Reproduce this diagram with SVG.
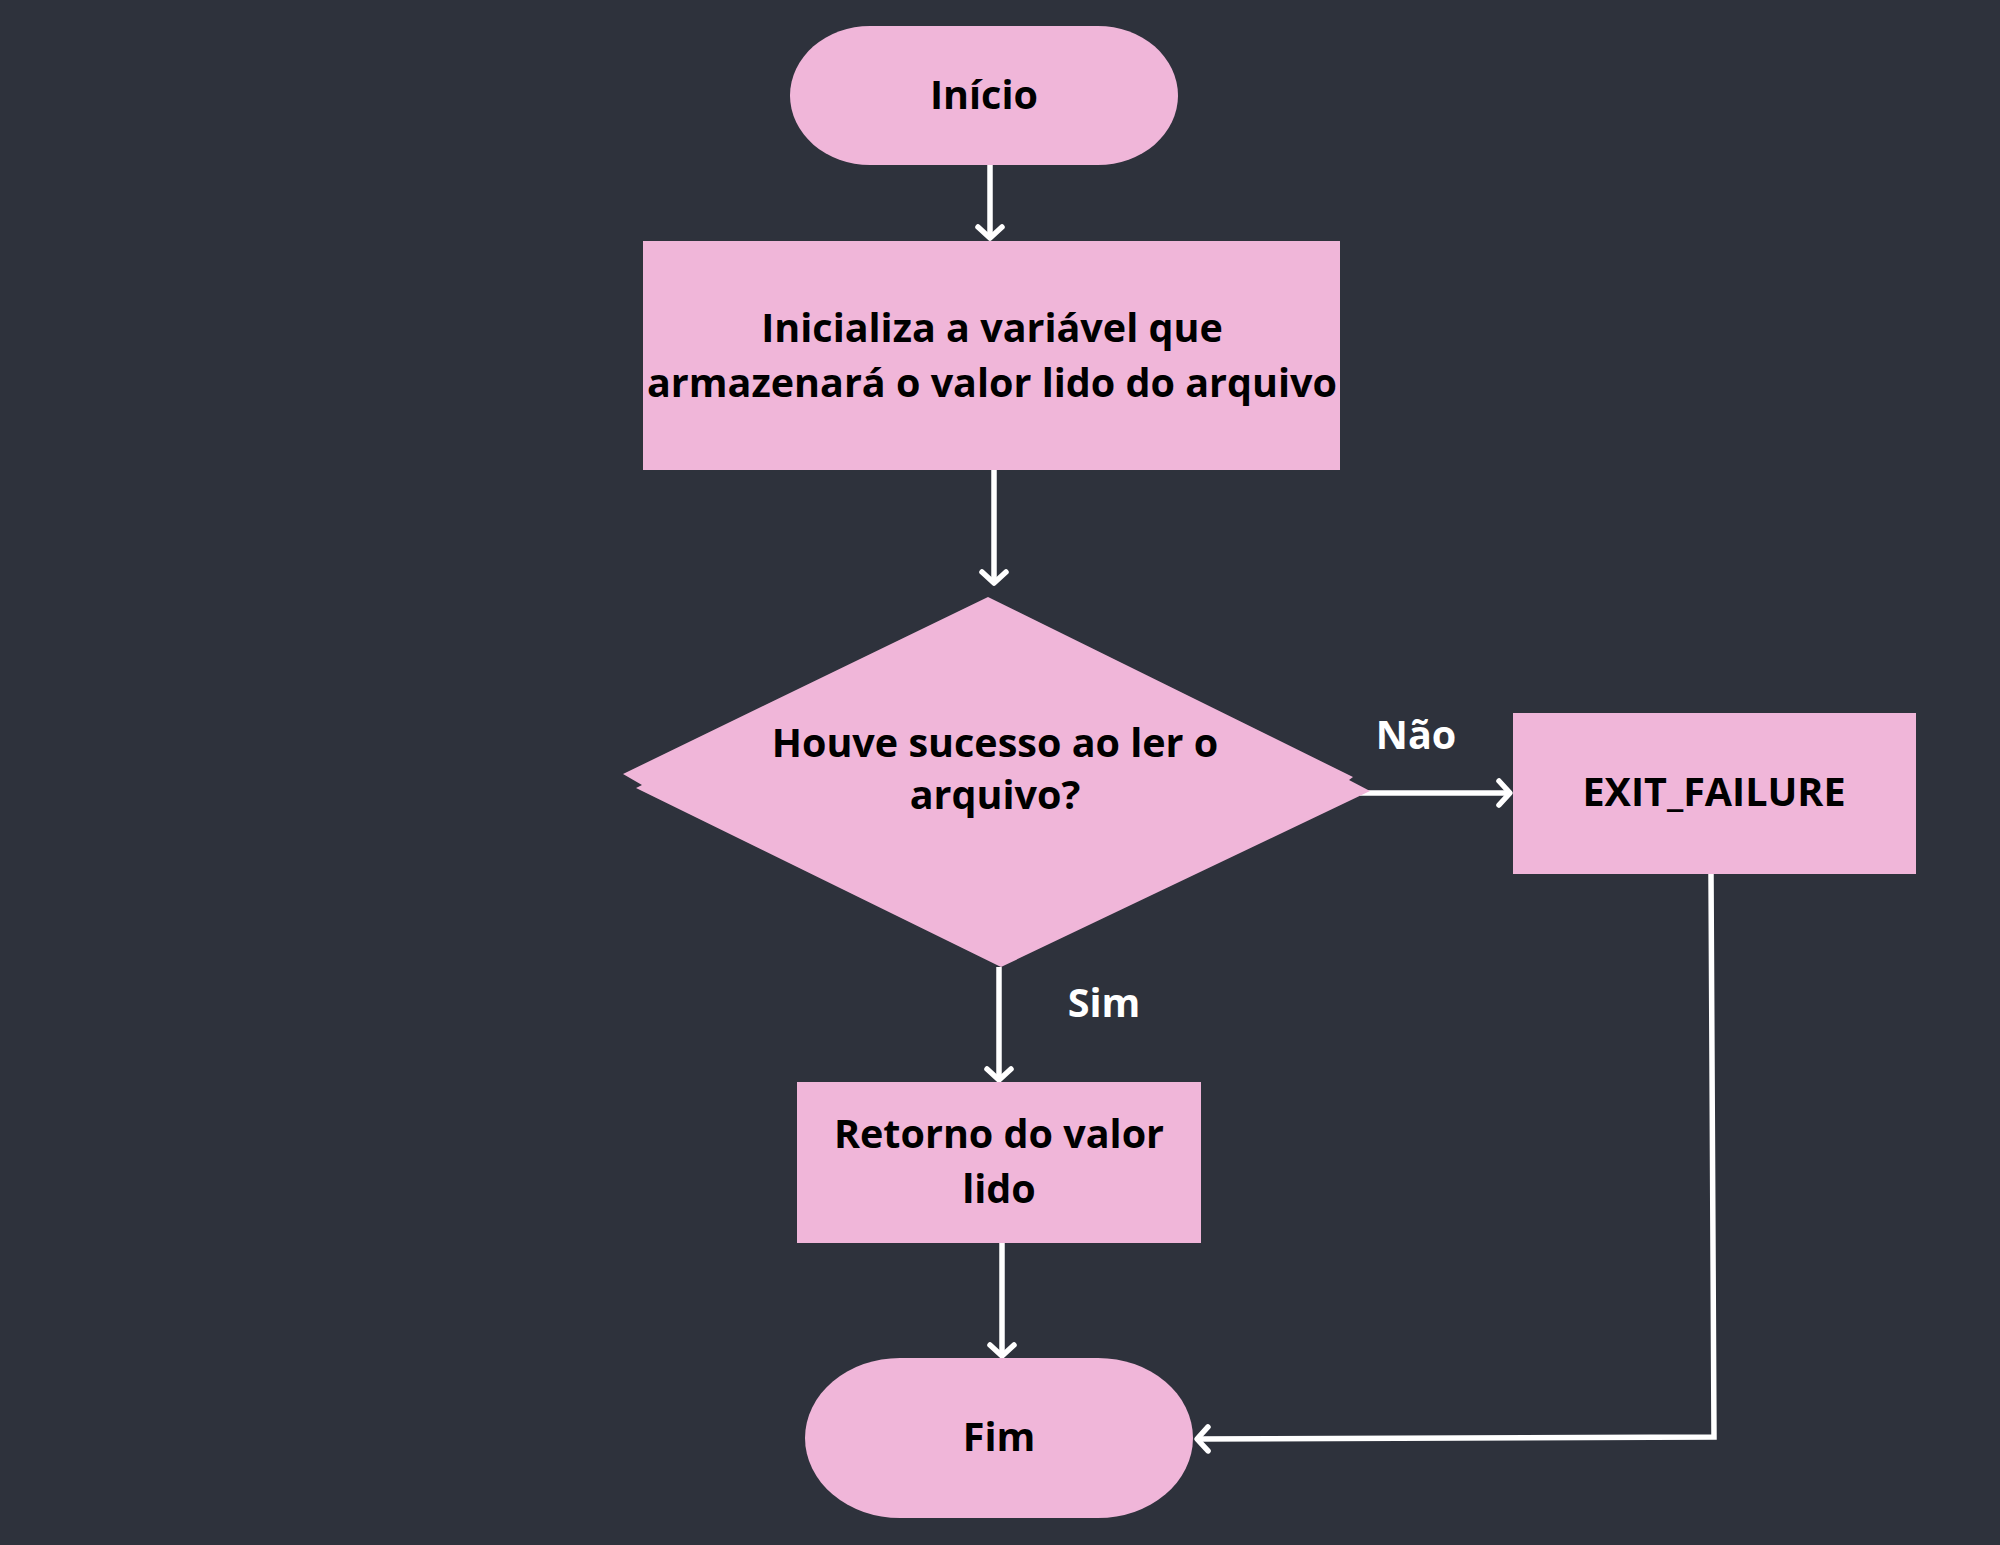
<svg xmlns="http://www.w3.org/2000/svg" width="2000" height="1545" viewBox="0 0 2000 1545">
<style>
.node{fill:#f0b6d9;}
.t{font-family:"Open Sans","Noto Sans","DejaVu Sans",sans-serif;font-weight:700;font-size:39.5px;fill:#000;text-anchor:middle;}
.lbl{font-family:"Open Sans","Noto Sans","DejaVu Sans",sans-serif;font-weight:700;font-size:39.5px;fill:#fff;text-anchor:middle;}
.c{stroke:#fff;stroke-width:5.5;fill:none;}
</style>
<defs>
<marker id="arr" markerWidth="12" markerHeight="12" refX="9" refY="6" orient="auto" markerUnits="userSpaceOnUse" viewBox="0 0 12 12" overflow="visible">
<path d="M-2,-6 L9,6 L-2,18" fill="none" stroke="#fff" stroke-width="5.5" stroke-linecap="round" stroke-linejoin="round"/>
</marker>
</defs>
<rect width="2000" height="1545" fill="#2e323c"/>
<g id="connectors">
<line class="c" x1="990" y1="165" x2="990" y2="238" marker-end="url(#arr)"/>
<line class="c" x1="994" y1="470" x2="994" y2="583" marker-end="url(#arr)"/>
<line class="c" x1="1360" y1="793" x2="1510" y2="793" marker-end="url(#arr)"/>
<line class="c" x1="999" y1="967" x2="999" y2="1080" marker-end="url(#arr)"/>
<line class="c" x1="1002" y1="1243" x2="1002" y2="1356" marker-end="url(#arr)"/>
<polyline class="c" points="1711,874 1714,1437 1197,1439" marker-end="url(#arr)"/>
</g>
<g id="inicio">
<rect class="node" x="790" y="26" width="388" height="139" rx="80" ry="69.5"/>
<text class="t" x="984" y="109">Início</text>
</g>
<g id="inicializa">
<rect class="node" x="643" y="241" width="697" height="229"/>
<text class="t" x="992" y="342">Inicializa a variável que</text>
<text class="t" x="992" y="397">armazenará o valor lido do arquivo</text>
</g>
<g id="decisao">
<polygon class="node" points="988,597 1353,777 1349,780 1370,791 1001,967 636,788 642,785 623,774"/>
<text class="t" x="995" y="757">Houve sucesso ao ler o</text>
<text class="t" x="995" y="809">arquivo?</text>
</g>
<g id="exit">
<rect class="node" x="1513" y="713" width="403" height="161"/>
<text class="t" x="1714" y="806">EXIT_FAILURE</text>
</g>
<g id="retorno">
<rect class="node" x="797" y="1082" width="404" height="161"/>
<text class="t" x="999" y="1148">Retorno do valor</text>
<text class="t" x="999" y="1203">lido</text>
</g>
<g id="fim">
<rect class="node" x="805" y="1358" width="388" height="160" rx="95" ry="80"/>
<text class="t" x="999" y="1451">Fim</text>
</g>
<g id="labels">
<text class="lbl" x="1416" y="749">Não</text>
<text class="lbl" x="1104" y="1017">Sim</text>
</g>
</svg>
